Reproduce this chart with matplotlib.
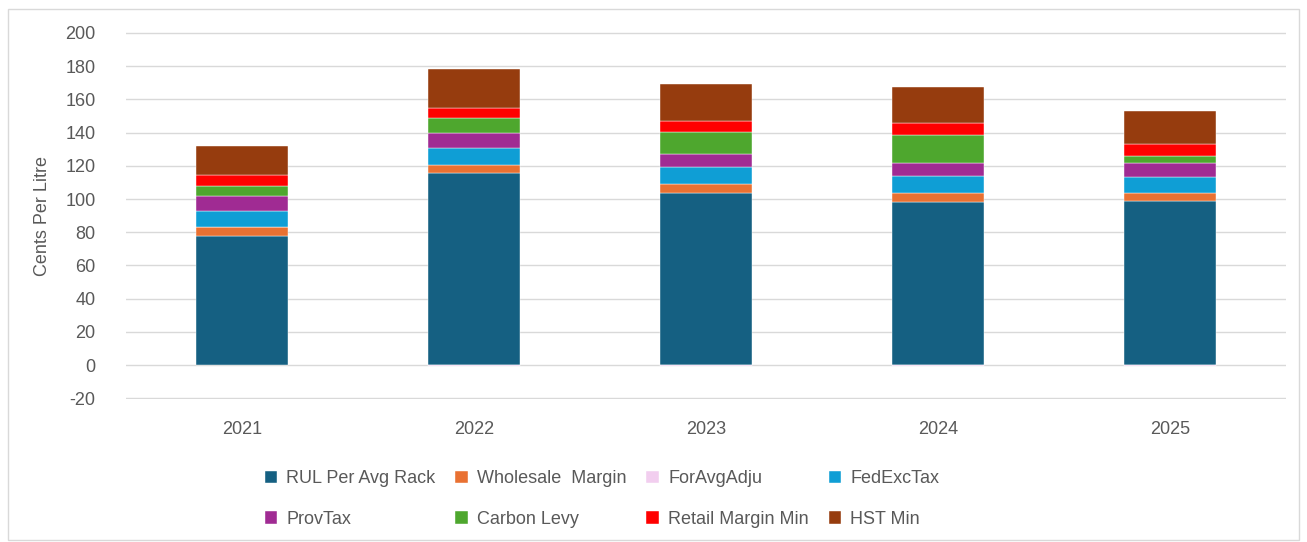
import numpy as np
import matplotlib.pyplot as plt
from matplotlib.patches import Rectangle

plt.rcParams['font.family'] = ['Liberation Sans', 'DejaVu Sans']
plt.rcParams['axes.unicode_minus'] = False

years = ['2021', '2022', '2023', '2024', '2025']
series_names = ['RUL Per Avg Rack', 'Wholesale  Margin', 'ForAvgAdju', 'FedExcTax',
                'ProvTax', 'Carbon Levy', 'Retail Margin Min', 'HST Min']
rul = [77.8, 115.4, 103.8, 98.4, 98.6]
wholesale = [5.2, 5.2, 5.4, 5.4, 5.0]
foravg = [0.0, -0.6, -0.6, -0.6, -0.6]
fedexc = [10.0, 10.2, 9.8, 10.0, 9.8]
provtax = [8.8, 9.0, 8.2, 8.0, 8.2]
carbon = [6.2, 8.8, 13.4, 17.0, 4.6]
retail = [6.4, 6.2, 6.2, 7.0, 7.2]
hst = [17.4, 23.6, 22.6, 21.8, 19.8]
colors = ['#156082', '#E97132', '#F2CEEF', '#0F9ED5',
          '#A02B93', '#4EA72E', '#FF0000', '#963C0E']

data = [rul, wholesale, foravg, fedexc, provtax, carbon, retail, hst]

fig = plt.figure(figsize=(13.07, 5.42), dpi=100)
ax = fig.add_axes([0.0964, 0.2638, 0.8875, 0.6766])

x = np.arange(len(years))
pos = np.zeros(len(years))
neg = np.zeros(len(years))
handles = []
for vals, name, c in zip(data, series_names, colors):
    v = np.array(vals, dtype=float)
    bottom = np.where(v >= 0, pos, neg)
    b = ax.bar(x, v, 0.4, bottom=bottom, color=c, label=name, zorder=3,
               edgecolor='white', linewidth=0.3)
    handles.append(b)
    pos = pos + np.where(v >= 0, v, 0)
    neg = neg + np.where(v < 0, v, 0)

ax.set_xlim(-0.5, 4.5)
ax.set_ylim(-20.4, 200.4)
ax.set_yticks(np.arange(-20, 201, 20))
ax.set_xticks(x)
ax.set_xticklabels(years)
ax.grid(axis='y', color='#d9d9d9', linewidth=1, zorder=0)
for s in ax.spines.values():
    s.set_visible(False)
ax.tick_params(axis='both', length=0, labelsize=13, colors='#595959')
ax.tick_params(axis='x', pad=16)
ax.tick_params(axis='y', pad=22)
ax.set_ylabel('Cents Per Litre', fontsize=13, color='#595959', labelpad=10)

# legend: fill columns so rows match the reference
order = [0, 4, 1, 5, 2, 6, 3, 7]
leg = fig.legend([handles[i] for i in order], [series_names[i] for i in order],
                 ncol=4, loc='lower left', bbox_to_anchor=(0.19, -0.004),
                 frameon=False, fontsize=13, handlelength=0.7, handleheight=0.7,
                 handletextpad=0.5, columnspacing=1.1, labelspacing=1.3)
for t in leg.get_texts():
    t.set_color('#595959')

fig.patches.append(Rectangle((0.006, 0.004), 0.988, 0.98, transform=fig.transFigure,
                             fill=False, edgecolor='#d9d9d9', linewidth=1))

fig.savefig('out.png', dpi=100)
